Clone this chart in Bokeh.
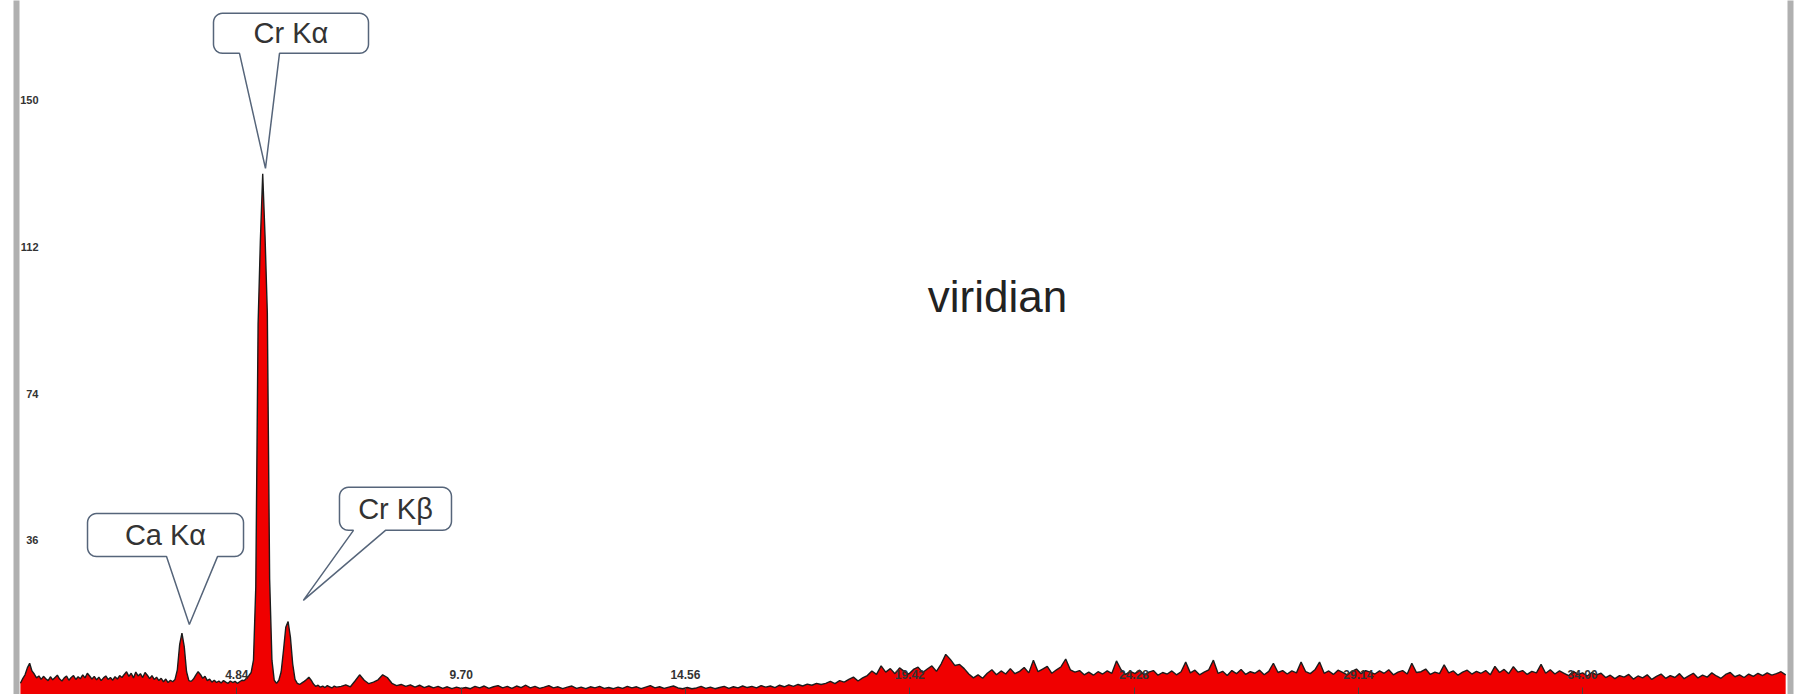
import numpy as np
from bokeh.plotting import figure
from bokeh.models import Range1d, LinearAxis, FixedTicker
from bokeh.embed import file_html
from bokeh.resources import INLINE
from bokeh.core.properties import value

# ---------------- data ----------------
# segment A: 0.15 .. 7.00 keV, 0.05 keV channels
seg_a_start, seg_a_step = 0.15, 0.05
counts_a = [
    -1.0, 0.2, 1.2, 3.0, 4.2, 2.2, 1.4, 0.4, 0.9, 0.0,
    0.8, 0.2, -0.3, 0.7, -0.1, 0.5, 1.1, 0.1, -0.4, 0.4,
    0.9, -0.2, 0.5, 1.0, 0.0, 0.7, 0.2, 1.2, 0.4, 1.6,
    0.9, 0.1, 0.8, -0.1, 0.6, -0.3, 0.4, 0.9, 0.0, 0.5,
    -0.2, 0.7, 0.1, 1.0, 0.5, 1.3, 2.0, 0.8, 1.6, 0.4,
    1.9, 0.9, 1.5, 0.5, 1.8, 1.1, 0.2, 1.0, 0.0, 0.6,
    -0.3, 0.3, -0.6, 0.1, -0.8, -0.2, -0.6, 0.0, 2.5, 9.0,
    12.0, 8.5, 2.0, -0.3, -0.5, 0.1, 1.1, 2.0, 1.3, 0.3,
    0.8, -0.3, 0.1, -0.7, -0.2, -0.8, -0.4, -0.9, -0.3, -0.7,
    -1.0, -0.4, -0.8, -0.5, -1.0, -0.6, -0.2, -0.3, 0.3, 1.0,
    1.8, 5.0, 24.0, 92.0, 114.0, 131.0, 115.0, 95.0, 26.0, 5.0,
    -0.2, -1.0, -0.2, 2.0, 7.5, 13.5, 15.0, 11.0, 4.0, 0.0,
    -1.0, -1.3, -0.9, -0.5, 0.0, 0.6, -0.2, -1.2, -1.8, -1.5,
    -2.0, -1.7, -2.1, -1.6, -1.9, -2.2, -1.7, -2.0,
]
# segment B: 7.1 .. 17.5 keV, 0.1 keV channels
seg_b_start, seg_b_step = 7.1, 0.1
counts_b = [
    -1.8, -1.4, -1.9, -0.4, 1.2, -0.2, -1.1, -0.7, -0.1, 1.2,
    0.5, -1.0, -1.6, -1.3, -1.8, -1.4, -2.0, -1.5, -2.1, -1.7,
    -2.2, -1.8, -2.3, -1.9, -2.4, -2.0, -2.3, -2.1, -2.4, -1.8,
    -2.2, -1.7, -2.3, -1.9, -1.6, -2.2, -1.8, -2.3, -1.7, -2.1,
    -1.5, -2.2, -1.8, -2.3, -2.0, -1.6, -2.2, -1.9, -2.4, -2.0,
    -1.7, -2.3, -2.0, -2.4, -1.9, -2.2, -1.8, -2.3, -2.1, -2.4,
    -2.0, -2.3, -1.8, -2.2, -1.9, -2.4, -2.0, -1.6, -2.2, -1.9,
    -2.3, -2.0, -1.7, -2.2, -2.4, -2.1, -2.4, -2.2, -1.8, -2.3,
    -2.0, -2.4, -2.1, -1.8, -2.3, -1.9, -2.2, -1.7, -2.1, -1.8,
    -2.2, -1.6, -2.0, -1.7, -2.1, -1.5, -1.9, -1.4, -1.8, -1.3,
    -1.7, -1.2, -1.5, -1.0, -1.3,
]
# segment C: 17.6 .. 38.4 keV, 0.1 keV channels
seg_c_start, seg_c_step = 17.6, 0.1
counts_c = [
    -1.0, -0.5, -1.1, -0.3, -0.7, 0.0, 0.6, -0.4, 0.4, 1.0,
    2.2, 1.3, 3.5, 1.9, 2.8, 1.5, 3.0, 2.1, 1.4, 2.6,
    3.2, 1.8, 2.7, 3.5, 2.1, 4.0, 6.5, 5.2, 3.6, 3.9,
    2.8, 1.4, 0.4, 1.2, 0.3, 1.6, 2.5, 1.2, 2.2, 1.4,
    2.8, 1.5, 2.1, 3.1, 1.7, 5.0, 2.0, 2.7, 3.4, 1.6,
    2.5, 3.3, 5.3, 2.5, 1.9, 2.3, 1.2, 1.9, 1.1, 2.0,
    1.4, 2.2, 1.6, 4.8, 2.5, 1.3, 2.1, 1.5, 2.4, 1.2,
    1.9, 2.3, 1.1, 1.8, 1.4, 2.2, 1.2, 2.0, 4.5, 1.7,
    2.4, 1.2, 1.9, 2.5, 5.0, 1.6, 2.1, 1.0, 2.3, 1.5,
    2.6, 1.3, 2.0, 1.6, 2.4, 1.2, 2.1, 4.2, 1.8, 2.3,
    1.4, 2.2, 1.7, 4.5, 2.0, 1.5, 2.5, 4.5, 1.6, 2.2,
    1.3, 2.4, 1.8, 1.2, 2.1, 2.7, 1.5, 2.3, 1.9, 1.4,
    2.2, 1.6, 2.5, 1.2, 1.9, 2.3, 1.4, 4.2, 1.8, 2.0,
    2.7, 1.3, 1.9, 1.5, 3.8, 1.7, 2.2, 1.1, 1.9, 2.4,
    1.4, 2.1, 1.6, 2.3, 1.2, 3.4, 1.8, 2.6, 1.5, 3.3,
    1.9, 2.3, 1.3, 2.1, 1.7, 3.9, 1.6, 2.5, 1.4, 2.2,
    1.6, 1.0, 2.1, 1.3, 1.7, 0.9, 1.8, 1.2, 1.6, 0.5,
    1.1, 0.2, 1.0, 0.6, 1.3, 0.1, 0.9, 0.4, 1.2, 0.0,
    0.8, 1.4, 0.3, 1.0, 0.5, 1.5, 0.2, 0.9, 1.6, 0.4,
    1.1, 0.6, 1.7, 0.9, 0.3, 1.3, 1.8, 0.7, 1.2, 0.5,
    1.4, 0.8, 1.6, 1.0, 1.7, 1.1, 1.5, 2.0, 1.2,
]

x_ticks = [4.84, 9.70, 14.56, 19.42, 24.28, 29.14, 34.00]
x_tick_labels = ["4.84", "9.70", "14.56", "19.42", "24.28", "29.14", "34.00"]
y_ticks = [36, 74, 112, 150]

# callouts: label, tip (keV, counts), box centre (keV, counts)
callout_labels = ["Cr K\u03b1", "Ca K\u03b1", "Cr K\u03b2"]
callout_tip_x = [5.46, 3.81, 6.28]
callout_tip_y = [132.4, 14.25, 20.5]
callout_box_x = [6.013, 3.294, 8.277]
callout_box_y = [167.4, 37.4, 44.2]

sample_name = "viridian"

# ---------------- build ----------------
def channels(start, step, n):
    return np.round(start + step * np.arange(n), 3)

energy = np.concatenate([
    channels(seg_a_start, seg_a_step, len(counts_a)),
    channels(seg_b_start, seg_b_step, len(counts_b)),
    channels(seg_c_start, seg_c_step, len(counts_c)),
])
counts = np.array(counts_a + counts_b + counts_c)

W, H = 1797, 694
BL, BR = 16, 7
x_rng = (0.065, 38.505)
y_rng = (-3.9, 175.9)
XS = (W - BL - BR) / (x_rng[1] - x_rng[0])
YS = H / (y_rng[1] - y_rng[0])

p = figure(width=W, height=H, x_range=Range1d(*x_rng), y_range=Range1d(*y_rng),
           output_backend="svg", toolbar_location=None,
           x_axis_location=None, y_axis_location=None,
           min_border_left=BL, min_border_right=BR, min_border_top=0, min_border_bottom=0)
p.grid.visible = False
p.outline_line_color = None
p.background_fill_color = "white"
p.border_fill_color = "white"

# spectrum
p.varea(x=energy, y1=y_rng[0] - 5, y2=counts, fill_color="#f00000")
p.line(energy, counts, line_color="#1c1c1c", line_width=1.4)

# axes
yax = LinearAxis(ticker=FixedTicker(ticks=y_ticks))
yax.axis_line_color = "#b0b0b0"
yax.axis_line_width = 6
yax.major_tick_line_color = None
yax.minor_tick_line_color = None
yax.major_label_standoff = -28
yax.major_label_text_font = "Liberation Sans"
yax.major_label_text_font_size = "11px"
yax.major_label_text_font_style = "bold"
yax.major_label_text_color = "#333333"
p.add_layout(yax, "left")

xax = LinearAxis(ticker=FixedTicker(ticks=x_ticks))
xax.major_label_overrides = {t: l for t, l in zip(x_ticks, x_tick_labels)}
xax.axis_line_color = None
xax.major_tick_in = 7
xax.major_tick_out = 0
xax.major_tick_line_color = "#444444"
xax.minor_tick_line_color = None
xax.major_label_standoff = -25
xax.major_label_text_font = "Liberation Sans"
xax.major_label_text_font_size = "12px"
xax.major_label_text_font_style = "bold"
xax.major_label_text_color = "#333333"
p.add_layout(xax, "below")

rax = LinearAxis(ticker=FixedTicker(ticks=[]))
rax.axis_line_color = "#b0b0b0"
rax.axis_line_width = 6
rax.major_tick_line_color = None
rax.minor_tick_line_color = None
rax.major_label_text_font_size = "0px"
p.add_layout(rax, "right")

# callout bubbles (sizes in screen pixels)
box_w = [155, 156, 112]
box_h = [40, 43, 43]
wedge_l = [-51.5, 1.0, -42.0]
wedge_r = [-11.5, 52.0, -10.0]


def bubble(cx, cy, w, h, b1, b2, tx, ty, r=9):
    hw, hh = w / 2, h / 2
    tdx, tdy = (tx - cx) * XS, (ty - cy) * YS
    pts = []

    def arc(xc, yc, a0, a1):
        for a in np.linspace(a0, a1, 8):
            pts.append((xc + r * np.cos(a), yc + r * np.sin(a)))

    arc(-hw + r, hh - r, np.pi, np.pi / 2)
    arc(hw - r, hh - r, np.pi / 2, 0)
    arc(hw - r, -hh + r, 0, -np.pi / 2)
    pts.append((b2, -hh))
    pts.append((tdx, tdy))
    pts.append((b1, -hh))
    arc(-hw + r, -hh + r, -np.pi / 2, -np.pi)
    return [cx + a / XS for a, _ in pts], [cy + b / YS for _, b in pts]


bxs, bys = [], []
for i in range(len(callout_labels)):
    bx, by = bubble(callout_box_x[i], callout_box_y[i], box_w[i], box_h[i],
                    wedge_l[i], wedge_r[i], callout_tip_x[i], callout_tip_y[i])
    bxs.append(bx)
    bys.append(by)

p.patches(bxs, bys, fill_color="white", line_color="#56657a", line_width=1.5)
p.text(x=callout_box_x, y=callout_box_y, text=callout_labels,
       text_align="center", text_baseline="middle",
       text_font=value("Liberation Sans"), text_font_size="29px", text_color="#333333")

p.text(x=[21.32], y=[99.2], text=[sample_name], text_align="center", text_baseline="middle",
       text_font=value("Liberation Sans"), text_font_size="44px", text_color="#222222")

open("out.html", "w").write(file_html(p, INLINE))
